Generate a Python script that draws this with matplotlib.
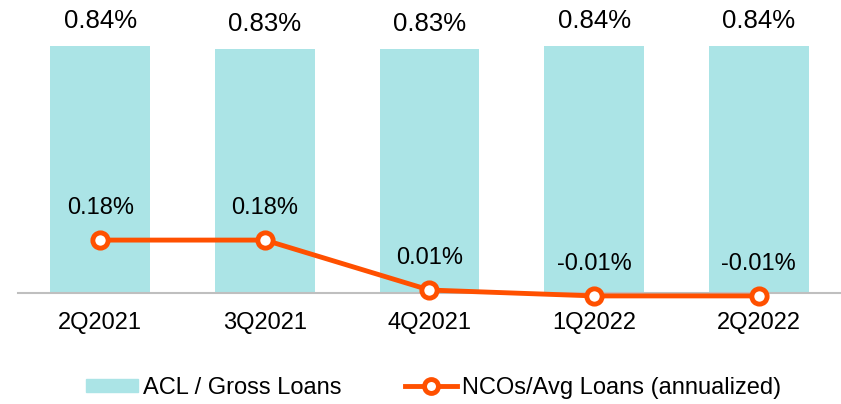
import matplotlib
matplotlib.use("Agg")
import matplotlib.pyplot as plt
from matplotlib.lines import Line2D
from matplotlib.patches import Patch

plt.rcParams['font.family'] = ['Liberation Sans', 'DejaVu Sans']

categories = ["2Q2021", "3Q2021", "4Q2021", "1Q2022", "2Q2022"]
acl = [0.84, 0.83, 0.83, 0.84, 0.84]
nco = [0.18, 0.18, 0.01, -0.01, -0.01]
acl_labels = ["0.84%", "0.83%", "0.83%", "0.84%", "0.84%"]
nco_labels = ["0.18%", "0.18%", "0.01%", "-0.01%", "-0.01%"]

bar_color = "#ABE4E6"
line_color = "#FF5000"

fig = plt.figure(figsize=(8.41, 4.04), dpi=100)
ax = fig.add_axes([0.0214, 0.2748, 0.9786, 0.691])
x = list(range(len(categories)))
ax.bar(x, acl, width=0.606, color=bar_color, zorder=1)
ax.plot(x, nco, color=line_color, lw=3.5, marker='o', ms=11, mfc='white',
        mec=line_color, mew=3.5, zorder=3, clip_on=False)

for xi, v, lab in zip(x, acl, acl_labels):
    ax.annotate(lab, (xi, v), xytext=(0, 18), textcoords='offset points', ha='center',
                va='center', fontsize=18.5, color='black', annotation_clip=False)
for xi, v, lab in zip(x, nco, nco_labels):
    ax.annotate(lab, (xi, v), xytext=(0, 23), textcoords='offset points', ha='center',
                va='center', fontsize=17, color='black', annotation_clip=False)

ax.set_xlim(-0.5, 4.5)
ax.set_ylim(0, 0.95)
ax.set_xticks(x)
ax.set_xticklabels(categories, fontsize=17)
ax.tick_params(axis='x', length=0, pad=14)
ax.set_yticks([])
for s in ['top', 'right', 'left']:
    ax.spines[s].set_visible(False)
ax.spines['bottom'].set_color('#BFBFBF')
ax.spines['bottom'].set_linewidth(1.5)

handles = [Patch(color=bar_color),
           Line2D([], [], color=line_color, lw=3.5, marker='o', ms=10, mfc='white',
                  mec=line_color, mew=3.5)]
fig.legend(handles, ["ACL / Gross Loans", "NCOs/Avg Loans (annualized)"],
           loc='center', bbox_to_anchor=(0.5155, 0.04), ncol=2, frameon=False,
           fontsize=17, columnspacing=2.7, handlelength=2.2, handletextpad=0.2,
           handleheight=0.5, borderpad=0, borderaxespad=0)

fig.savefig("out.png", dpi=100)
